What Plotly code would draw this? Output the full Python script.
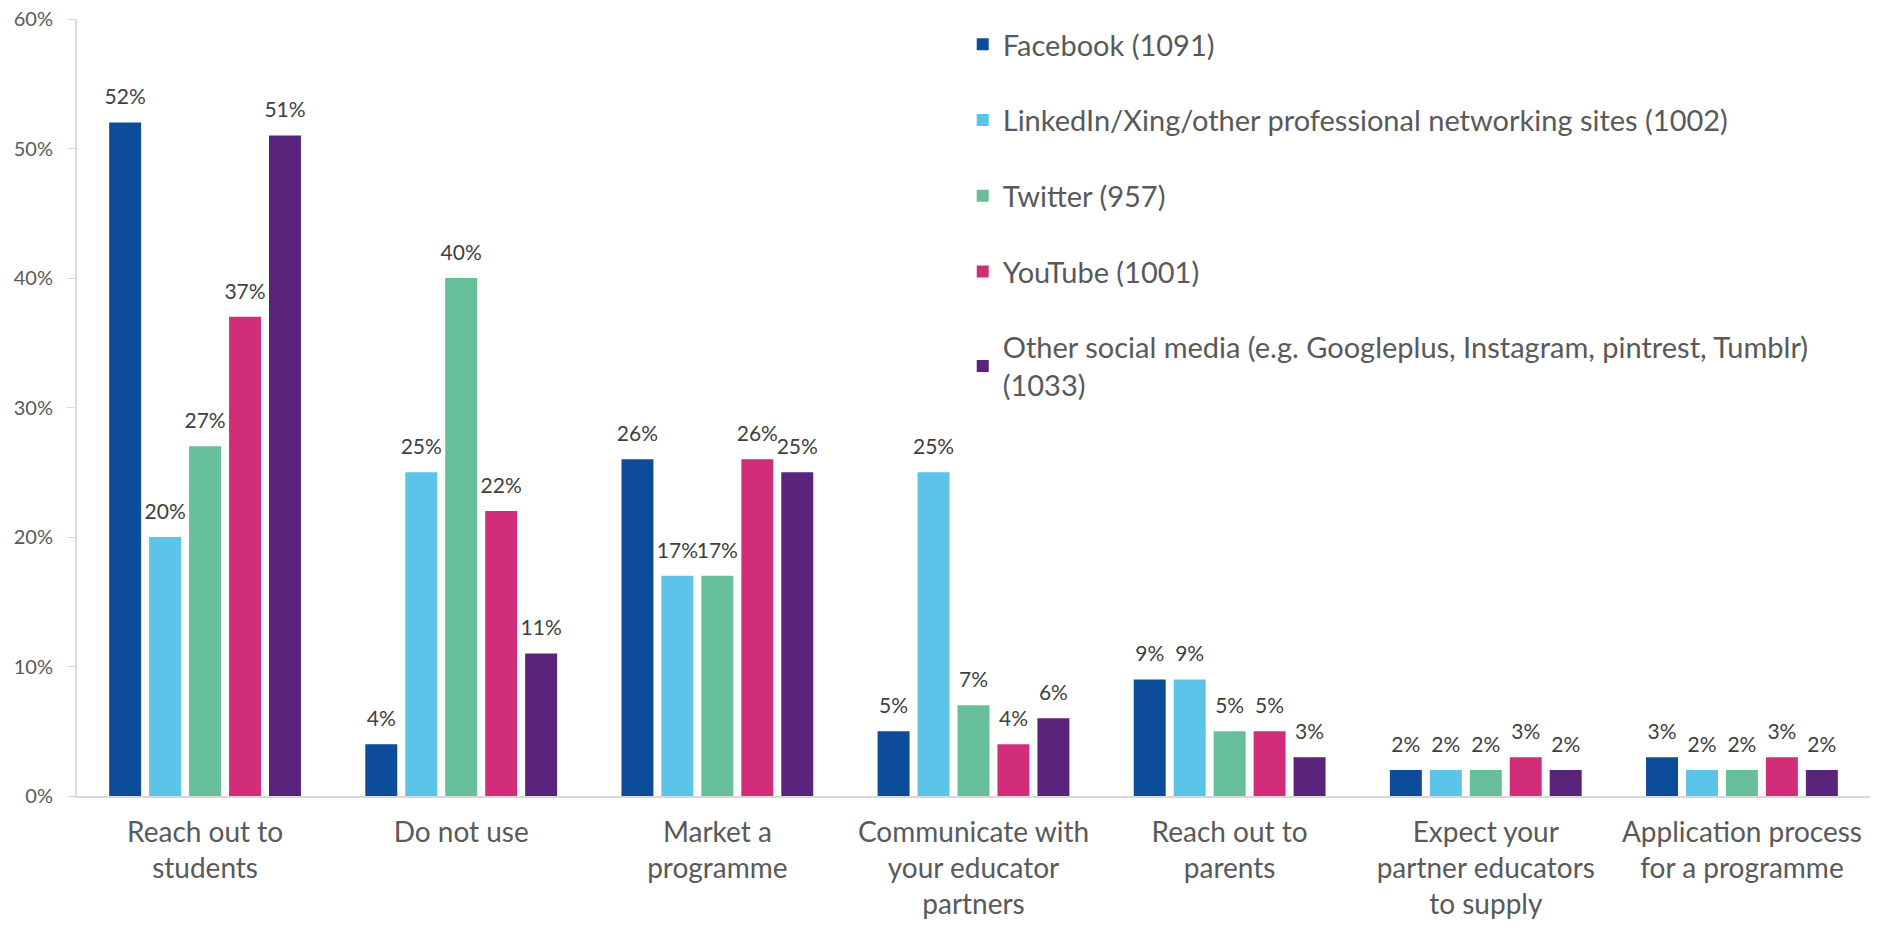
import plotly.graph_objects as go

categories = [
    "Reach out to<br>students",
    "Do not use",
    "Market a<br>programme",
    "Communicate with<br>your educator<br>partners",
    "Reach out to<br>parents",
    "Expect your<br>partner educators<br>to supply",
    "Application process<br>for a programme",
]

facebook = [52, 4, 26, 5, 9, 2, 3]
linkedin = [20, 25, 17, 25, 9, 2, 2]
twitter = [27, 40, 17, 7, 5, 2, 2]
youtube = [37, 22, 26, 4, 5, 3, 3]
other = [51, 11, 25, 6, 3, 2, 2]

series_names = [
    "Facebook (1091)",
    "LinkedIn/Xing/other professional networking sites (1002)",
    "Twitter (957)",
    "YouTube (1001)",
    "Other social media (e.g. Googleplus, Instagram, pintrest, Tumblr)<br>(1033)",
]
series_values = [facebook, linkedin, twitter, youtube, other]
series_colors = ["#0D4C9B", "#5BC4E8", "#66BF9A", "#D12E7A", "#5A237C"]

y_ticks = [0, 10, 20, 30, 40, 50, 60]
y_tick_labels = [f"{v}%" for v in y_ticks]

FONT = "Lato"


def bar_label(v):
    # value on top, plus a small transparent spacer line lifting it off the bar
    return (f"<span style='font-size:21px'>{v}%</span>"
            "<br><span style='font-size:4px;color:rgba(0,0,0,0)'>.</span>")


fig = go.Figure()
for name, vals, color in zip(series_names, series_values, series_colors):
    fig.add_trace(go.Bar(
        x=categories,
        y=vals,
        name=name,
        legendgroup=name,
        marker=dict(color=color, line=dict(width=0)),
        text=[bar_label(v) for v in vals],
        textposition="outside",
        constraintext="none",
        textfont=dict(family=FONT, size=11, color="#404040"),
        cliponaxis=False,
        hovertemplate="%{y}%<extra>" + name.split("<br>")[0] + "</extra>",
    ))

fig.update_layout(
    width=1885,
    height=933,
    barmode="group",
    bargap=0.22,
    bargroupgap=0.2,
    plot_bgcolor="white",
    paper_bgcolor="white",
    margin=dict(l=77, r=15, t=19, b=137),
    font=dict(family=FONT, color="#595959"),
    showlegend=True,
    legend=dict(
        x=0.494,
        y=1.0,
        xanchor="left",
        yanchor="top",
        orientation="v",
        traceorder="grouped",
        tracegroupgap=35,
        font=dict(family=FONT, size=29, color="#595959"),
        bgcolor="rgba(0,0,0,0)",
        itemwidth=30,
    ),
)

fig.update_xaxes(
    automargin=False,
    showgrid=False,
    showline=True,
    linecolor="#D9D9D9",
    linewidth=2,
    ticks="",
    tickfont=dict(family=FONT, size=28, color="#595959"),
    ticklabelstandoff=10,
)
fig.update_yaxes(
    automargin=False,
    range=[0, 60],
    tickvals=y_ticks,
    ticktext=y_tick_labels,
    showgrid=False,
    zeroline=False,
    showline=True,
    linecolor="#D9D9D9",
    linewidth=2,
    ticks="outside",
    ticklen=8,
    tickcolor="#D9D9D9",
    ticklabelstandoff=10,
    tickfont=dict(family=FONT, size=20, color="#595959"),
)

fig.write_html("out.html")
